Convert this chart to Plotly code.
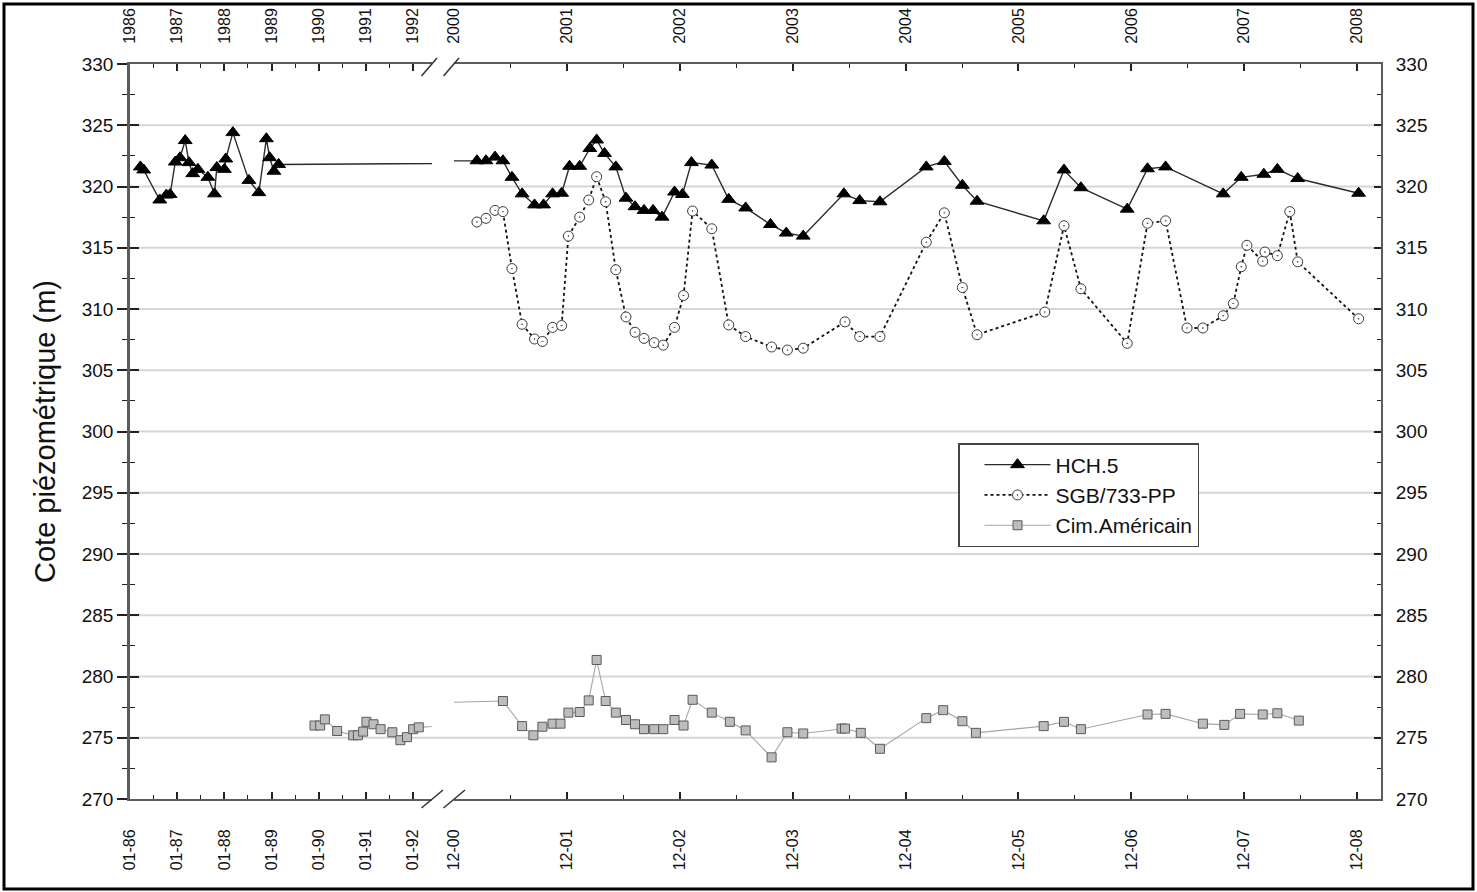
import plotly.graph_objects as go

FONT = "Liberation Sans, Arial, sans-serif"

# ---------------- data (decimal years, piezometric level in m) ----------------
hch_year = [1986.22, 1986.29, 1986.63, 1986.77, 1986.85, 1986.96, 1987.06, 1987.17, 1987.25, 1987.33,
            1987.44, 1987.65, 1987.79, 1987.84, 1988.00, 1988.03, 1988.18, 1988.52, 1988.73, 1988.89,
            1988.96, 1989.05, 1989.15,
            2001.12, 2001.20, 2001.28, 2001.35, 2001.43, 2001.52, 2001.63, 2001.71, 2001.79, 2001.87,
            2001.94, 2002.03, 2002.12, 2002.18, 2002.25, 2002.35, 2002.44, 2002.52, 2002.60, 2002.68,
            2002.76, 2002.87, 2002.94, 2003.02, 2003.20, 2003.35, 2003.50, 2003.72, 2003.86, 2004.01,
            2004.37, 2004.51, 2004.69, 2005.10, 2005.26, 2005.42, 2005.55, 2006.14, 2006.32, 2006.47,
            2006.88, 2007.06, 2007.22, 2007.73, 2007.89, 2008.09, 2008.21, 2008.39, 2008.93]
hch_level = [321.6, 321.35, 318.9, 319.3, 319.35, 322.0, 322.35, 323.75, 321.95, 321.05,
             321.4, 320.75, 319.4, 321.55, 321.4, 322.25, 324.4, 320.5, 319.5, 323.9,
             322.35, 321.25, 321.8,
             322.1, 322.1, 322.4, 322.1, 320.75, 319.4, 318.5, 318.5, 319.4, 319.45,
             321.65, 321.65, 323.1, 323.8, 322.7, 321.6, 319.05, 318.35, 318.05, 318.05,
             317.5, 319.55, 319.35, 321.95, 321.75, 318.95, 318.25, 316.9, 316.2, 315.95,
             319.4, 318.85, 318.75, 321.6, 322.05, 320.1, 318.8, 317.2, 321.35, 319.9,
             318.15, 321.45, 321.6, 319.4, 320.75, 321.0, 321.4, 320.65, 319.45]

sgb_year = [2001.12, 2001.20, 2001.28, 2001.35, 2001.43, 2001.52, 2001.63, 2001.70, 2001.79, 2001.87,
            2001.93, 2002.03, 2002.11, 2002.18, 2002.26, 2002.35, 2002.44, 2002.52, 2002.60, 2002.69,
            2002.77, 2002.87, 2002.95, 2003.03, 2003.20, 2003.35, 2003.50, 2003.73, 2003.87, 2004.01,
            2004.38, 2004.51, 2004.69, 2005.10, 2005.26, 2005.42, 2005.55, 2006.15, 2006.32, 2006.47,
            2006.88, 2007.06, 2007.22, 2007.41, 2007.55, 2007.73, 2007.82, 2007.89, 2007.94, 2008.08,
            2008.10, 2008.21, 2008.32, 2008.39, 2008.93]
sgb_level = [317.1, 317.4, 318.05, 317.95, 313.3, 308.75, 307.55, 307.35, 308.5, 308.65,
             315.95, 317.5, 318.9, 320.8, 318.75, 313.2, 309.35, 308.1, 307.6, 307.25,
             307.05, 308.5, 311.1, 318.0, 316.55, 308.7, 307.75, 306.9, 306.65, 306.8,
             308.95, 307.75, 307.75, 315.45, 317.85, 311.75, 307.9, 309.75, 316.8, 311.65,
             307.2, 317.0, 317.2, 308.45, 308.45, 309.45, 310.45, 313.45, 315.2, 313.9,
             314.65, 314.35, 317.95, 313.85, 309.2]

cim_year = [1989.91, 1990.03, 1990.13, 1990.39, 1990.73, 1990.83, 1990.94, 1991.01, 1991.16, 1991.31,
            1991.56, 1991.73, 1991.87, 1992.00, 1992.12,
            2001.35, 2001.52, 2001.62, 2001.70, 2001.79, 2001.86, 2001.93, 2002.03, 2002.11, 2002.18,
            2002.26, 2002.35, 2002.44, 2002.52, 2002.60, 2002.69, 2002.77, 2002.87, 2002.95, 2003.03,
            2003.20, 2003.36, 2003.50, 2003.73, 2003.87, 2004.01, 2004.35, 2004.38, 2004.52, 2004.69,
            2005.10, 2005.25, 2005.42, 2005.54, 2006.14, 2006.32, 2006.47, 2007.06, 2007.22, 2007.55,
            2007.74, 2007.88, 2008.08, 2008.21, 2008.40]
cim_level = [276.0, 276.0, 276.5, 275.55, 275.2, 275.2, 275.5, 276.3, 276.1, 275.7,
             275.45, 274.8, 275.05, 275.7, 275.85,
             278.0, 275.95, 275.2, 275.9, 276.15, 276.15, 277.05, 277.1, 278.05, 281.35,
             278.0, 277.05, 276.45, 276.1, 275.7, 275.7, 275.7, 276.45, 276.0, 278.1,
             277.05, 276.3, 275.6, 273.4, 275.45, 275.35, 275.75, 275.75, 275.4, 274.1,
             276.6, 277.25, 276.35, 275.4, 275.95, 276.3, 275.7, 276.9, 276.95, 276.15,
             276.05, 276.95, 276.9, 277.0, 276.4]

# axis ticks
left_tick_years = [1986, 1987, 1988, 1989, 1990, 1991, 1992]
left_bottom_labels = ["01-86", "01-87", "01-88", "01-89", "01-90", "01-91", "01-92"]
left_top_labels = ["1986", "1987", "1988", "1989", "1990", "1991", "1992"]
right_tick_years = [2000, 2001, 2002, 2003, 2004, 2005, 2006, 2007, 2008]
right_bottom_labels = ["12-00", "12-01", "12-02", "12-03", "12-04", "12-05", "12-06", "12-07", "12-08"]
right_top_labels = ["2000", "2001", "2002", "2003", "2004", "2005", "2006", "2007", "2008"]
y_ticks = [270, 275, 280, 285, 290, 295, 300, 305, 310, 315, 320, 325, 330]
y_minor = [272.5, 277.5, 282.5, 287.5, 292.5, 297.5, 302.5, 307.5, 312.5, 317.5, 322.5, 327.5]
y_grid = [275, 280, 285, 290, 295, 300, 305, 310, 315, 320, 325]

left_range = [1986.0, 1992.40]
right_range = [2000 + 11 / 12, 2009.128]

left_ticks = [float(y) for y in left_tick_years]                   # January
left_minor = [y + 0.5 for y in left_tick_years[:-1]]
right_ticks = [y + 11 / 12 for y in right_tick_years]              # December
right_minor = [t + 0.5 for t in right_ticks]

# ---------------- layout geometry ----------------
W, H = 1477, 892
L, R, T, B = 130, 1381, 64, 799


def pxx(x):
    return (x - L) / (R - L)


def pxy(y):
    return (B - y) / (B - T)


dom_left = [0, pxx(432)]
dom_right = [pxx(454), 1]

fig = go.Figure()

HCH_LINE = dict(color="#2b2b2b", width=1.4)
HCH_MARK = dict(symbol="triangle-up", size=12, color="#000000", line=dict(color="#000000", width=1))
SGB_LINE = dict(color="#111111", width=1.8, dash="dot")
SGB_MARK = dict(symbol="circle-dot", size=10, color="#ffffff", line=dict(color="#3a3a3a", width=1))
CIM_LINE = dict(color="#a6a6a6", width=1.1)
CIM_MARK = dict(symbol="square", size=9, color="#bdbdbd", line=dict(color="#5a5a5a", width=1))

# left panel (1986-1992): bottom axis x / top axis x3 share the same range
fig.add_trace(go.Scatter(x=cim_year, y=cim_level, mode="lines+markers", line=CIM_LINE, marker=CIM_MARK,
                         xaxis="x", yaxis="y", showlegend=False, legendgroup="cim", name="Cim.Américain"))
fig.add_trace(go.Scatter(x=hch_year, y=hch_level, mode="lines+markers", line=HCH_LINE, marker=HCH_MARK,
                         xaxis="x3", yaxis="y3", showlegend=False, legendgroup="hch", name="HCH.5"))
# right panel (2000-2008): bottom axis x2 / top axis x4 share the same range
fig.add_trace(go.Scatter(x=hch_year, y=hch_level, mode="lines+markers", line=HCH_LINE, marker=HCH_MARK,
                         xaxis="x4", yaxis="y2", showlegend=True, legendgroup="hch", name="HCH.5"))
fig.add_trace(go.Scatter(x=sgb_year, y=sgb_level, mode="lines+markers", line=SGB_LINE, marker=SGB_MARK,
                         xaxis="x2", yaxis="y", showlegend=True, legendgroup="sgb", name="SGB/733-PP"))
fig.add_trace(go.Scatter(x=cim_year, y=cim_level, mode="lines+markers", line=CIM_LINE, marker=CIM_MARK,
                         xaxis="x2", yaxis="y", showlegend=True, legendgroup="cim", name="Cim.Américain"))

AXC = "#5c5c5c"
TKC = "#222222"
common_x = dict(showgrid=False, zeroline=False, showline=True, linecolor=AXC, linewidth=2,
                ticks="inside", ticklen=7, tickwidth=1.5, tickcolor=TKC, tickmode="array",
                tickangle=-90, fixedrange=True, automargin=False)
Y_RANGE = [270, 330]

fig.update_layout(
    width=W, height=H,
    margin=dict(l=L, r=W - R, t=T, b=H - B, pad=0, autoexpand=False),
    paper_bgcolor="white", plot_bgcolor="white",
    font=dict(family=FONT, color="#111111"),
    xaxis=dict(**common_x, domain=dom_left, range=left_range, anchor="y",
               tickvals=left_ticks, ticktext=left_bottom_labels, tickfont=dict(size=16),
               ticklabelstandoff=22,
               minor=dict(tickvals=left_minor, ticks="inside", ticklen=4, tickwidth=1.2, tickcolor=TKC)),
    xaxis2=dict(**common_x, domain=dom_right, range=right_range, anchor="y",
                tickvals=right_ticks, ticktext=right_bottom_labels, tickfont=dict(size=16),
                ticklabelstandoff=22,
                minor=dict(tickvals=right_minor, ticks="inside", ticklen=4, tickwidth=1.2, tickcolor=TKC)),
    xaxis3=dict(**common_x, domain=dom_left, range=left_range, anchor="y", overlaying="x", side="top",
                tickvals=left_ticks, ticktext=left_top_labels, tickfont=dict(size=16),
                ticklabelstandoff=15,
                minor=dict(tickvals=left_minor, ticks="inside", ticklen=4, tickwidth=1.2, tickcolor=TKC)),
    xaxis4=dict(**common_x, domain=dom_right, range=right_range, anchor="y", overlaying="x2", side="top",
                tickvals=right_ticks, ticktext=right_top_labels, tickfont=dict(size=16),
                ticklabelstandoff=15,
                minor=dict(tickvals=right_minor, ticks="inside", ticklen=4, tickwidth=1.2, tickcolor=TKC)),
    yaxis=dict(range=Y_RANGE, anchor="x", side="left", showgrid=False, zeroline=False,
               showline=True, linecolor=AXC, linewidth=2.5, tickmode="array", tickvals=y_ticks,
               ticks="outside", ticklen=10, tickwidth=1.5, tickcolor=TKC, tickfont=dict(size=19),
               minor=dict(tickvals=y_minor, ticks="outside", ticklen=5, tickwidth=1.2, tickcolor=TKC),
               title=dict(text="Cote piézométrique (m)", font=dict(size=29), standoff=18),
               fixedrange=True, automargin=False),
    yaxis2=dict(range=Y_RANGE, anchor="x2", side="right", overlaying="y", showgrid=False,
                zeroline=False, showline=True, linecolor=AXC, linewidth=2, tickmode="array",
                tickvals=y_ticks, ticks="inside", ticklen=7, tickwidth=1.5, tickcolor=TKC,
                tickfont=dict(size=19), ticklabelstandoff=9,
                minor=dict(tickvals=y_minor, ticks="inside", ticklen=4, tickwidth=1.2, tickcolor=TKC),
                fixedrange=True, automargin=False),
    yaxis3=dict(range=Y_RANGE, anchor="x", side="left", overlaying="y", showgrid=False,
                zeroline=False, showline=False, tickmode="array", tickvals=y_ticks,
                ticks="inside", ticklen=9, tickwidth=1.5, tickcolor=TKC, showticklabels=False,
                minor=dict(tickvals=y_minor, ticks="inside", ticklen=5, tickwidth=1.2, tickcolor=TKC),
                fixedrange=True, automargin=False),
    legend=dict(x=pxx(958), y=pxy(443), xanchor="left", yanchor="top",
                bgcolor="white", bordercolor="#444444", borderwidth=1.5,
                font=dict(size=21, family=FONT, color="#111111"),
                itemwidth=66, indentation=20, tracegroupgap=0),
    showlegend=True,
)

shapes = []
# horizontal grid lines spanning both panels and the break
for v in y_grid:
    shapes.append(dict(type="line", xref="paper", yref="y", x0=0, x1=1, y0=v, y1=v,
                       line=dict(color="#d6d6d6", width=2), layer="below"))
# axis-break marks (bottom and top)
for (x0, y0, x1, y1) in [(421.5, 808, 443, 790), (443.5, 808, 465, 790),
                         (421.5, 76, 437, 58), (443.5, 76, 459, 58)]:
    shapes.append(dict(type="line", xref="paper", yref="paper",
                       x0=pxx(x0), y0=pxy(y0), x1=pxx(x1), y1=pxy(y1),
                       line=dict(color="#333333", width=1.5)))
# outer frame
shapes.append(dict(type="rect", xref="paper", yref="paper",
                   x0=pxx(4), x1=pxx(1473), y0=pxy(889), y1=pxy(4),
                   line=dict(color="#000000", width=3), fillcolor="rgba(0,0,0,0)"))
fig.update_layout(shapes=shapes)

fig.write_html("out.html")
